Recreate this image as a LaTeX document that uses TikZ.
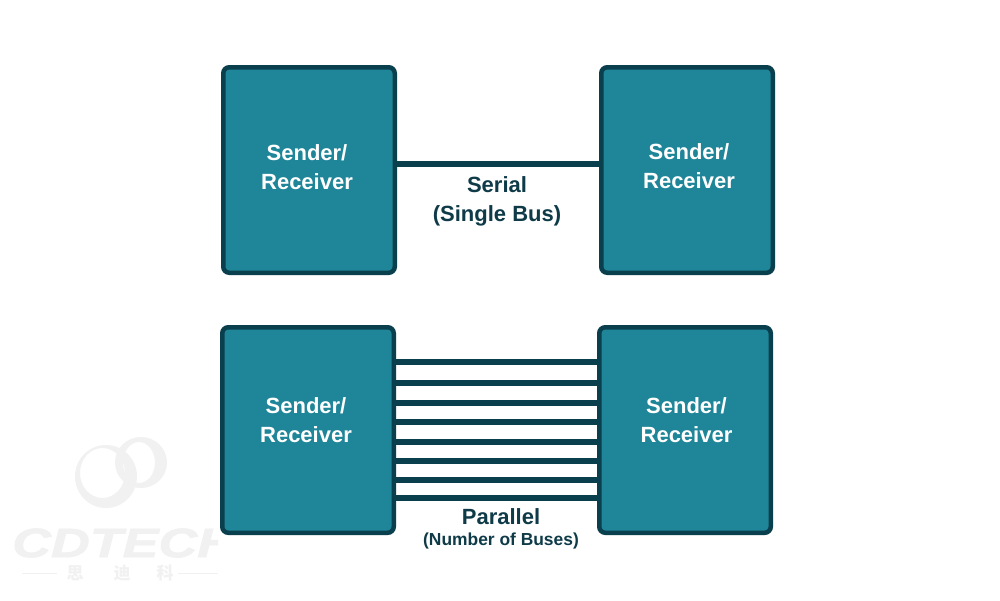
\documentclass[tikz,border=0pt]{standalone}
\usepackage{fontspec}
\setmainfont{Liberation Sans}
\newfontfamily\cjkwm{Noto Sans CJK SC}
\newfontfamily\wmlatin[UprightFont=* Bold Italic,FakeBold=1.5]{Liberation Sans}
\definecolor{boxfill}{HTML}{1F8598}
\definecolor{boxline}{HTML}{0A3F4D}
\definecolor{inktext}{HTML}{0F3B49}
\definecolor{wmgray}{HTML}{F1F1F1}
\tikzset{
  unit/.style={draw=boxline,fill=boxfill,line width=4.5pt,rounded corners=6pt,minimum width=171.5pt,minimum height=205.5pt,outer sep=0pt,inner sep=0pt},
  unitlabel/.style={text=white,align=center,font=\fontsize{22}{29}\selectfont\bfseries,inner sep=0pt},
  wire/.style={draw=boxline,line width=6pt},
  capbig/.style={text=inktext,align=center,font=\fontsize{22}{29}\selectfont\bfseries,inner sep=0pt},
  capsmall/.style={text=inktext,font=\fontsize{17.4}{20}\selectfont\bfseries,inner sep=0pt},
  wmring/.style={fill=wmgray,even odd rule,draw=none},
  wmline/.style={draw=wmgray,line width=1pt},
  wmcjk/.style={text=wmgray,font=\cjkwm\bfseries\fontsize{17}{17}\selectfont,inner sep=0pt},
}
\begin{document}
\begin{tikzpicture}[x=1pt,y=-1pt]
\useasboundingbox (0,0) rectangle (1000,600);
\fill[white] (0,0) rectangle (1000,600);
% watermark
\fill[wmring] (141,462.5) ellipse (26 and 25.5) (139,462.5) ellipse (16 and 20.5);
\fill[wmring] (106,476.5) ellipse (31 and 31.5) (102.5,473) ellipse (22.5 and 25);
\begin{scope}
\clip (0,515) rectangle (218,565);
\node[text=wmgray,font=\wmlatin\fontsize{41}{41}\selectfont,inner sep=0pt,anchor=west,xscale=1.31] (wmname) at (12,543) {CDTECH};
\end{scope}
\coordinate (wmla) at (22,573); \coordinate (wmlb) at (57,573);
\coordinate (wmra) at (178,573); \coordinate (wmrb) at (218,573);
\draw[wmline] (wmla) -- (wmlb);
\draw[wmline] (wmra) -- (wmrb);
\node[wmcjk] (wm1) at (75,573) {思};
\node[wmcjk] (wm2) at (122,573) {迪};
\node[wmcjk] (wm3) at (165,573) {科};
% boxes
\node[unit] (tl) at (309,170) {};
\node[unit] (tr) at (687,170) {};
\node[unit] (bl) at (308,430) {};
\node[unit] (br) at (685,430) {};
% wires
\draw[wire] (tl.east |- 0,164) -- (tr.west |- 0,164);
\foreach \yy in {362,383,403,422,442,461,480,498}
  \draw[wire] (bl.east |- 0,\yy) -- (br.west |- 0,\yy);
% labels
\node[unitlabel] (tll) at (307,167.5) {Sender/\\Receiver};
\node[unitlabel] (trl) at (689,166) {Sender/\\Receiver};
\node[unitlabel] (bll) at (306,420) {Sender/\\Receiver};
\node[unitlabel] (brl) at (686.5,420) {Sender/\\Receiver};
\node[capbig] (serial) at (497,201) {Serial\\(Single Bus)};
\node[capbig] (par) at (501,517) {Parallel};
\node[capsmall] (num) at (501,541) {(Number of Buses)};
\end{tikzpicture}
\end{document}
